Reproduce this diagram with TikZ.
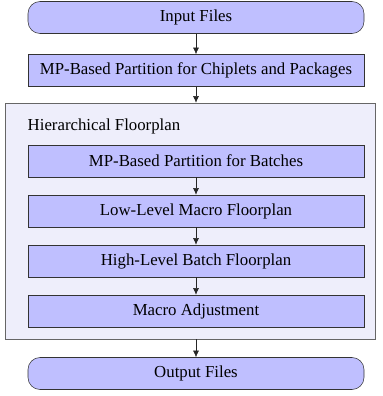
\documentclass[tikz,border=0pt]{standalone}
\usepackage{fontspec}
\setmainfont{Liberation Serif}
\usetikzlibrary{arrows.meta}

\definecolor{stagefill}{HTML}{BFBFFF}
\definecolor{groupfill}{HTML}{EEEEFB}

\tikzset{
  every node/.style={font=\fontsize{12.6}{15}\selectfont},
  stage/.style={draw=black!80, fill=stagefill, minimum width=252pt, minimum height=24pt, inner sep=0pt},
  terminal/.style={stage, rounded corners=9pt},
  group/.style={draw=black!60, fill=groupfill, minimum width=277.5pt, minimum height=177pt, inner sep=0pt},
  flow/.style={-{Latex[length=5pt,width=4.5pt]}, black!85},
}

\begin{document}
\begin{tikzpicture}[x=0.75pt,y=-0.75pt]
    \useasboundingbox (0,0) rectangle (382,396);
    % outer block
    \node [group] (hier) at (190,221) {};
    \node [anchor=west] (hierlabel) at (23,126) {Hierarchical Floorplan};
    % stages
    \node [terminal] (input) at (196,17.5) {Input Files};
    \node [stage] (chiplet) at (196,70.5) {MP-Based Partition for Chiplets and Packages};
    \node [stage] (batch) at (196,161) {MP-Based Partition for Batches};
    \node [stage] (lowlevel) at (196,211) {Low-Level Macro Floorplan};
    \node [stage] (highlevel) at (196,261) {High-Level Batch Floorplan};
    \node [stage] (adjust) at (196,311) {Macro Adjustment};
    \node [terminal] (output) at (196,373.5) {Output Files};
    % connectors
    \draw [flow] (input) -- (chiplet);
    \draw [flow] (chiplet.south) -- (chiplet.south |- hier.north);
    \draw [flow] (batch) -- (lowlevel);
    \draw [flow] (lowlevel) -- (highlevel);
    \draw [flow] (highlevel) -- (adjust);
    \draw [flow] (output.north |- hier.south) -- (output.north);
\end{tikzpicture}
\end{document}
